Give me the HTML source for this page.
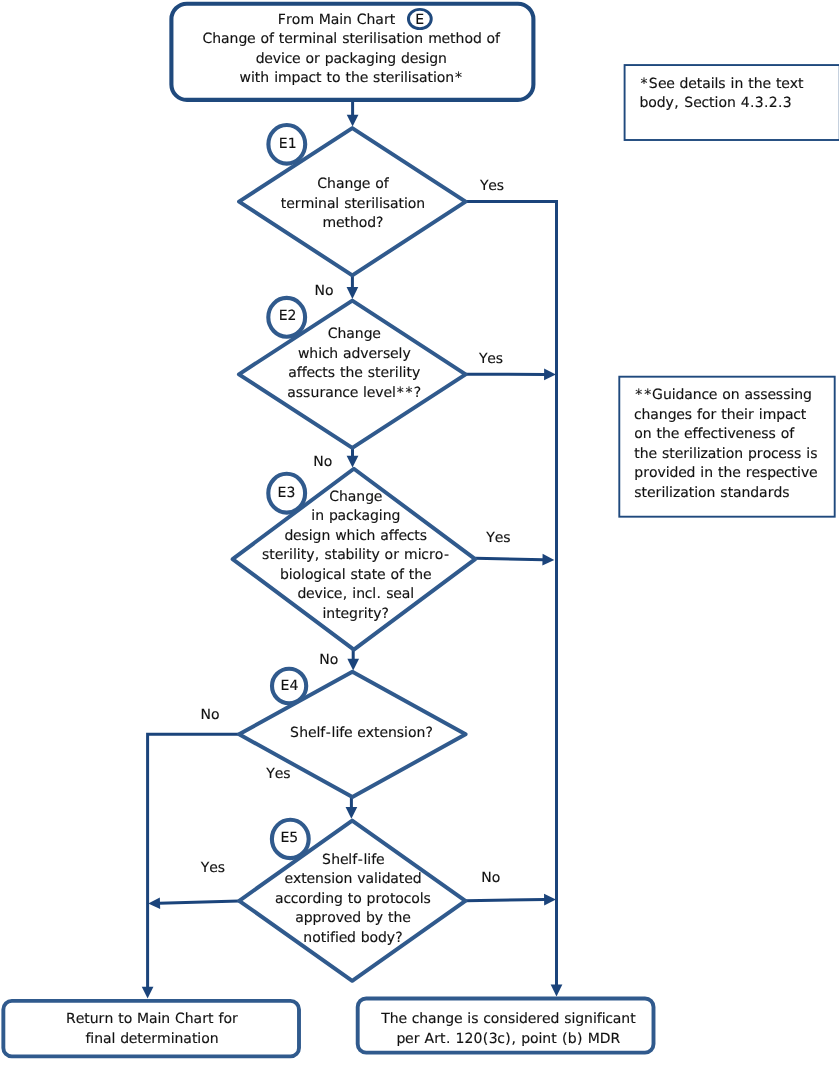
<!DOCTYPE html>
<html lang="en">
<head>
<meta charset="utf-8">
<title>Flowchart E - Change of terminal sterilisation method</title>
<style>
html,body{margin:0;padding:0;background:#fff;}
body{width:839px;height:1065px;overflow:hidden;}
svg{display:block;will-change:transform;}
svg text{font-family:"DejaVu Sans","Liberation Sans",sans-serif;fill:#111;stroke:#111;stroke-width:0.14px;text-rendering:geometricPrecision;}
</style>
</head>
<body>
<svg width="839" height="1065" viewBox="0 0 839 1065">
<rect width="839" height="1065" fill="#fff"/>
<polyline points="352.6,101 352.6,115.8" fill="none" stroke="#1B447B" stroke-width="3.0" stroke-linejoin="miter"/>
<polygon points="352.60,126.60 346.75,114.80 358.45,114.80" fill="#1B447B"/>
<polyline points="465.6,201.5 556.5,201.5 556.5,985.6" fill="none" stroke="#1B447B" stroke-width="3.0" stroke-linejoin="miter"/>
<polygon points="556.50,996.40 550.65,984.60 562.35,984.60" fill="#1B447B"/>
<polyline points="352.4,275.3 352.4,288.1" fill="none" stroke="#1B447B" stroke-width="3.0" stroke-linejoin="miter"/>
<polygon points="352.40,298.90 346.55,287.10 358.25,287.10" fill="#1B447B"/>
<polyline points="465.6,374.3 545.1,374.39" fill="none" stroke="#1B447B" stroke-width="3.0" stroke-linejoin="miter"/>
<polygon points="555.90,374.40 544.09,380.24 544.11,368.54" fill="#1B447B"/>
<polyline points="352.5,447.8 352.5,456.8" fill="none" stroke="#1B447B" stroke-width="3.0" stroke-linejoin="miter"/>
<polygon points="352.50,467.60 346.65,455.80 358.35,455.80" fill="#1B447B"/>
<polyline points="475.2,558.3 543.5,559.68" fill="none" stroke="#1B447B" stroke-width="3.0" stroke-linejoin="miter"/>
<polygon points="554.30,559.90 542.38,565.51 542.62,553.81" fill="#1B447B"/>
<polyline points="353.2,649.7 353.2,659.8" fill="none" stroke="#1B447B" stroke-width="3.0" stroke-linejoin="miter"/>
<polygon points="353.20,670.60 347.35,658.80 359.05,658.80" fill="#1B447B"/>
<polyline points="239.1,734.3 147.6,734.3 147.6,987.7" fill="none" stroke="#1B447B" stroke-width="3.0" stroke-linejoin="miter"/>
<polygon points="147.60,998.50 141.75,986.70 153.45,986.70" fill="#1B447B"/>
<polyline points="351.4,797 351.4,808.0" fill="none" stroke="#1B447B" stroke-width="3.0" stroke-linejoin="miter"/>
<polygon points="351.40,818.80 345.55,807.00 357.25,807.00" fill="#1B447B"/>
<polyline points="239.2,901.1 159.0,903.3" fill="none" stroke="#1B447B" stroke-width="3.0" stroke-linejoin="miter"/>
<polygon points="148.20,903.60 159.83,897.43 160.16,909.12" fill="#1B447B"/>
<polyline points="465.4,900.7 545.1,899.56" fill="none" stroke="#1B447B" stroke-width="3.0" stroke-linejoin="miter"/>
<polygon points="555.90,899.40 544.19,905.42 544.02,893.72" fill="#1B447B"/>
<ellipse cx="286.8" cy="144.3" rx="18.4" ry="19.3" fill="#fff" stroke="#305A8D" stroke-width="4.1"/><text x="278.82 287.67" y="148.3" font-size="14">E1</text>
<ellipse cx="286.7" cy="317.3" rx="18.4" ry="19.4" fill="#fff" stroke="#305A8D" stroke-width="4.1"/><text x="278.72 287.57" y="320.1" font-size="14">E2</text>
<ellipse cx="286.7" cy="493.2" rx="18.4" ry="19.4" fill="#fff" stroke="#305A8D" stroke-width="4.1"/><text x="277.62 286.47" y="497.0" font-size="14">E3</text>
<ellipse cx="289.1" cy="686.0" rx="17.1" ry="17.3" fill="#fff" stroke="#305A8D" stroke-width="4.1"/><text x="280.62 289.47" y="690.0" font-size="14">E4</text>
<ellipse cx="290.3" cy="838.9" rx="18.4" ry="19.2" fill="#fff" stroke="#305A8D" stroke-width="4.1"/><text x="280.52 289.37" y="841.7" font-size="14">E5</text>
<polygon points="352.3,128.1 465.6,201.6 352.3,275.35 239.0,201.6" fill="#fff" stroke="#305A8D" stroke-width="3.95" stroke-linejoin="round"/>
<polygon points="352.3,300.6 465.6,374.3 352.3,447.85 238.9,374.3" fill="#fff" stroke="#305A8D" stroke-width="3.95" stroke-linejoin="round"/>
<polygon points="353.85,468.75 475.2,559.1 353.85,649.7 232.6,559.1" fill="#fff" stroke="#305A8D" stroke-width="3.95" stroke-linejoin="round"/>
<polygon points="352.4,671.8 465.6,734.3 352.4,797.05 239.1,734.3" fill="#fff" stroke="#305A8D" stroke-width="3.95" stroke-linejoin="round"/>
<polygon points="352.2,820.6 465.4,900.8 352.2,980.8 239.2,900.8" fill="#fff" stroke="#305A8D" stroke-width="3.95" stroke-linejoin="round"/>
<rect x="171.4" y="3.7" width="362.0" height="96.2" rx="15.5" ry="15.5" fill="#fff" stroke="#1F497D" stroke-width="4.1"/>
<rect x="3.35" y="1000.9" width="295.65" height="55.5" rx="8.5" ry="8.5" fill="#fff" stroke="#305A8D" stroke-width="3.9"/>
<rect x="357.7" y="998.5" width="295.8" height="54.1" rx="8.5" ry="8.5" fill="#fff" stroke="#305A8D" stroke-width="3.9"/>
<rect x="624.6" y="65.05" width="215.1" height="74.95" rx="0" ry="0" fill="#fff" stroke="#1F497D" stroke-width="1.9"/>
<rect x="619.3" y="376.7" width="215.4" height="140.0" rx="0" ry="0" fill="#fff" stroke="#1F497D" stroke-width="1.9"/>
<ellipse cx="419.85" cy="19" rx="11.4" ry="9.6" fill="#fff" stroke="#1F497D" stroke-width="2.95"/>
<text x="415.28" y="24" font-size="14">E</text>
<text x="277.87 286.03 291.86 300.39 314.26 318.81 330.66 339.13 342.99 352.1 356.79 366.55 375.34 383.95 389.83" y="24" font-size="14">From Main Chart</text>
<text x="202.55 212.31 221.1 229.59 238.38 247.05 255.76 260.42 268.95 274.12 278.82 284.19 292.78 298.64 312.24 316.1 324.88 333.35 337.45 342.14 349.45 354.82 363.41 369.25 373.08 376.92 380.78 387.99 396.51 401.98 405.81 414.34 423.44 428.13 441.62 450.11 455.61 464.44 472.89 481.93 486.59 495.12" y="43.1" font-size="14">Change of terminal sterilisation method of</text>
<text x="255.65 264.32 272.8 281.06 284.72 292.08 300.8 305.45 314.1 320.2 324.81 333.53 341.82 349.41 357.52 365.94 374.71 378.57 387.36 396.4 401.01 409.68 418.16 425.42 429.2 438" y="62.65" font-size="14">device or packaging design</text>
<text x="239.56 250.98 254.86 260.36 269.46 274.13 277.98 291.53 300.25 308.54 316.06 321.8 326.5 331.97 340.74 345.44 350.94 359.67 368.39 373.08 380.39 385.75 394.34 400.18 404.02 407.85 411.72 418.93 427.44 432.91 436.74 445.27 455.09" y="82.2" font-size="14">with impact to the sterilisation*</text>
<text x="317.33 327.1 335.88 344.38 353.16 361.83 370.55 375.2 383.74" y="188.0" font-size="14">Change of</text>
<text x="280.82 286.19 294.77 300.63 314.23 318.09 326.88 335.35 339.45 344.14 351.45 356.82 365.4 371.24 375.08 378.91 382.78 389.99 398.5 403.97 407.8 416.33" y="207.5" font-size="14">terminal sterilisation</text>
<text x="322.4 335.89 344.38 349.88 358.71 367.16 376.07" y="227.0" font-size="14">method?</text>
<text x="327.81 337.58 346.36 354.85 363.64 372.31" y="338.0" font-size="14">Change</text>
<text x="297.93 309.37 318.22 321.88 329.37 338.47 343.08 351.49 360.3 368.45 377.04 382.91 390.07 398.52 402.38" y="357.5" font-size="14">which adversely</text>
<text x="288.35 296.84 301.77 306.57 314.84 322.35 327.85 335.39 340.09 345.58 354.32 363.04 367.73 375.03 380.4 388.99 394.83 398.67 402.5 406.38 411.88" y="377.0" font-size="14">affects the sterility</text>
<text x="287.33 295.83 303.12 310.41 319.39 325.17 333.66 342.33 349.69 358.41 363.07 366.8 375.28 383.43 391.88 396.7 405.6 413.65" y="396.5" font-size="14">assurance level**?</text>
<text x="329.31 339.08 347.86 356.35 365.14 373.81" y="500.5" font-size="14">Change</text>
<text x="311.32 315.18 324.29 328.89 337.61 345.91 353.5 361.61 370.02 378.8 382.66 391.44" y="520.0" font-size="14">in packaging</text>
<text x="284.39 293.06 301.54 308.8 312.58 321.38 330.49 335.18 346.62 355.46 359.13 366.62 375.72 380.33 388.83 393.75 398.55 406.82 414.33 419.84" y="539.5" font-size="14">design which affects</text>
<text x="261.98 269.29 274.66 283.25 289.08 292.92 296.76 300.63 306.14 314.75 319.76 324.45 331.76 337.17 345.59 354.37 358.2 362.04 365.92 371.42 379.94 384.6 393.24 399.35 404.03 417.63 421.29 428.9 434.73 443.92" y="559.0" font-size="14">sterility, stability or micro-</text>
<text x="279.96 288.74 292.57 301.07 304.9 313.35 322.13 325.79 333.2 341.67 345.78 350.47 357.77 363.19 371.7 377.07 385.79 390.44 398.98 404.14 408.85 414.34 423.08" y="578.5" font-size="14">biological state of the</text>
<text x="297.42 306.09 314.57 322.83 326.49 333.86 342.65 347.67 352.33 356.19 364.85 372.32 376.51 381.52 386.21 393.37 401.76 410.23" y="598.0" font-size="14">device, incl. seal</text>
<text x="322.51 326.37 335.25 340.62 349.01 357.93 363.77 367.64 373.15 381.53" y="617.5" font-size="14">integrity?</text>
<text x="290.02 299.25 307.98 316.43 320.29 325.87 331.55 335.39 339.25 344.05 352.76 357.32 365.79 374.1 379.47 387.94 396.8 404.07 407.9 416.43 425.39" y="737.3" font-size="14">Shelf-life extension?</text>
<text x="321.92 331.15 339.88 348.33 352.2 357.77 363.45 367.29 371.15 375.95" y="863.8" font-size="14">Shelf-life</text>
<text x="284.44 292.91 301.21 306.58 315.05 323.92 331.19 335.02 343.54 352.65 357.34 365.54 374.01 377.85 381.63 390.35 398.86 404.23 412.63" y="883.3" font-size="14">extension validated</text>
<text x="275.1 283.4 290.69 298.15 306.8 312.58 321.36 325.22 334 343.05 347.75 353.22 361.99 366.59 375.51 381.34 389.89 395.36 403.69 411.15 419.65 423.52" y="902.8" font-size="14">according to protocols</text>
<text x="295.28 303.69 312.41 321.33 327.16 335.7 343.85 352.24 361.29 365.89 374.7 383.23 387.93 393.42 402.16" y="922.3" font-size="14">approved by the</text>
<text x="303.33 312.16 320.71 326.18 330.05 334.95 338.68 347.07 356.12 360.72 369.49 377.94 386.75 395.13" y="941.8" font-size="14">notified body?</text>
<text x="66.06 75.66 84.15 89.64 98.62 104.48 113.59 118.29 123.76 132.53 137.08 148.94 157.41 161.27 170.37 175.06 184.83 193.61 202.22 208.1 213.84 218.53 223.43 232.07" y="1023.0" font-size="14">Return to Main Chart for</text>
<text x="85.42 90.32 94.18 102.96 111.43 115.54 120.14 128.82 137.31 142.68 151.26 157.12 170.72 174.58 183.37 191.88 197.35 201.18 209.71" y="1042.5" font-size="14">final determination</text>
<text x="381.2 389.79 398.52 407.24 411.72 419.21 428 436.49 445.27 453.95 462.66 467.32 471.19 478.72 483.21 490.67 499.19 508.06 515.33 519.11 527.78 536.37 542.11 550.5 559.54 564.23 571.5 575.28 584.08 592.92 596.78 601.68 605.34 612.76 621.25 630.13" y="1023.0" font-size="14">The change is considered significant</text>
<text x="396.44 405.11 413.7 419.8 424.49 434.18 440.06 445.88 450.9 455.59 464.49 473.39 482.75 488.65 497.35 505.3 511.53 516.54 521.15 529.92 538.42 542.28 551.16 556.9 562.04 567.87 577.12 583.26 587.81 599.76 610.55" y="1042.5" font-size="14">per Art. 120(3c), point (b) MDR</text>
<text x="640.55 648.85 657.95 666.29 675.01 679.61 688.29 696.78 702.19 710.66 714.5 718.36 725.9 730.56 734.42 743.52 748.23 753.72 762.46 771.17 775.88 781.25 789.72 798.02" y="87.5" font-size="14">*See details in the text</text>
<text x="639.52 648.29 656.74 665.54 674.15 679.16 684.2 693.3 701.57 709.08 714.56 718.39 726.91 736.02 740.71 749.93 754.71 763.93 768.71 777.93 782.71" y="107.0" font-size="14">body, Section 4.3.2.3</text>
<text x="635.25 644.16 652.11 662.95 671.79 675.57 684.29 692.78 701.45 708.81 717.53 722.18 730.71 739.82 744.42 752.92 760.22 767.38 775.85 783.15 790.41 794.27 803.06" y="399.0" font-size="14">**Guidance on assessing</text>
<text x="634.1 641.59 650.37 658.86 667.65 676.32 684.8 692.33 697.02 701.91 710.56 716.66 721.37 726.86 735.6 744.05 748.02 754.13 758.79 762.64 776.19 784.91 793.21 800.72" y="418.6" font-size="14">changes for their impact</text>
<text x="634.26 642.79 651.9 656.6 662.1 670.83 679.55 684.1 692.58 697.51 702.3 710.58 718.09 723.56 727.43 735.58 744.05 752.79 761.27 768.56 776.09 780.75 789.28" y="438.2" font-size="14">on the effectiveness of</text>
<text x="634.31 639.81 648.54 657.26 661.95 669.26 674.63 683.22 689.05 692.89 696.73 700.59 707.86 716.37 721.84 725.67 734.2 743.3 747.91 756.83 762.66 770.99 778.35 786.83 794.12 801.66 806.32 810.18" y="457.8" font-size="14">the sterilization process is</text>
<text x="634.22 643.13 648.96 657.5 665.76 669.54 678.21 686.6 695.65 700.31 704.17 713.27 717.98 723.47 732.21 740.92 745.73 751.46 759.94 767.15 775.82 784.09 791.6 797.08 800.94 809.1" y="477.4" font-size="14">provided in the respective</text>
<text x="634.3 641.61 646.98 655.57 661.4 665.24 669.08 672.94 680.21 688.72 694.19 698.02 706.55 715.65 720.34 727.65 733.07 741.56 750.35 759.07 767.68 773.46 782.27" y="497.0" font-size="14">sterilization standards</text>
<text x="479.9 488.35 496.83" y="189.5" font-size="14">Yes</text>
<text x="314.51 324.95" y="294.6" font-size="14">No</text>
<text x="478.9 487.35 495.83" y="362.7" font-size="14">Yes</text>
<text x="313.31 323.75" y="465.7" font-size="14">No</text>
<text x="486.2 494.65 503.13" y="541.8" font-size="14">Yes</text>
<text x="319.21 329.65" y="664" font-size="14">No</text>
<text x="200.51 210.95" y="718.6" font-size="14">No</text>
<text x="266.2 274.65 283.13" y="778.3" font-size="14">Yes</text>
<text x="200.7 209.15 217.63" y="872.4" font-size="14">Yes</text>
<text x="481.31 491.75" y="882" font-size="14">No</text>
</svg>
</body>
</html>
